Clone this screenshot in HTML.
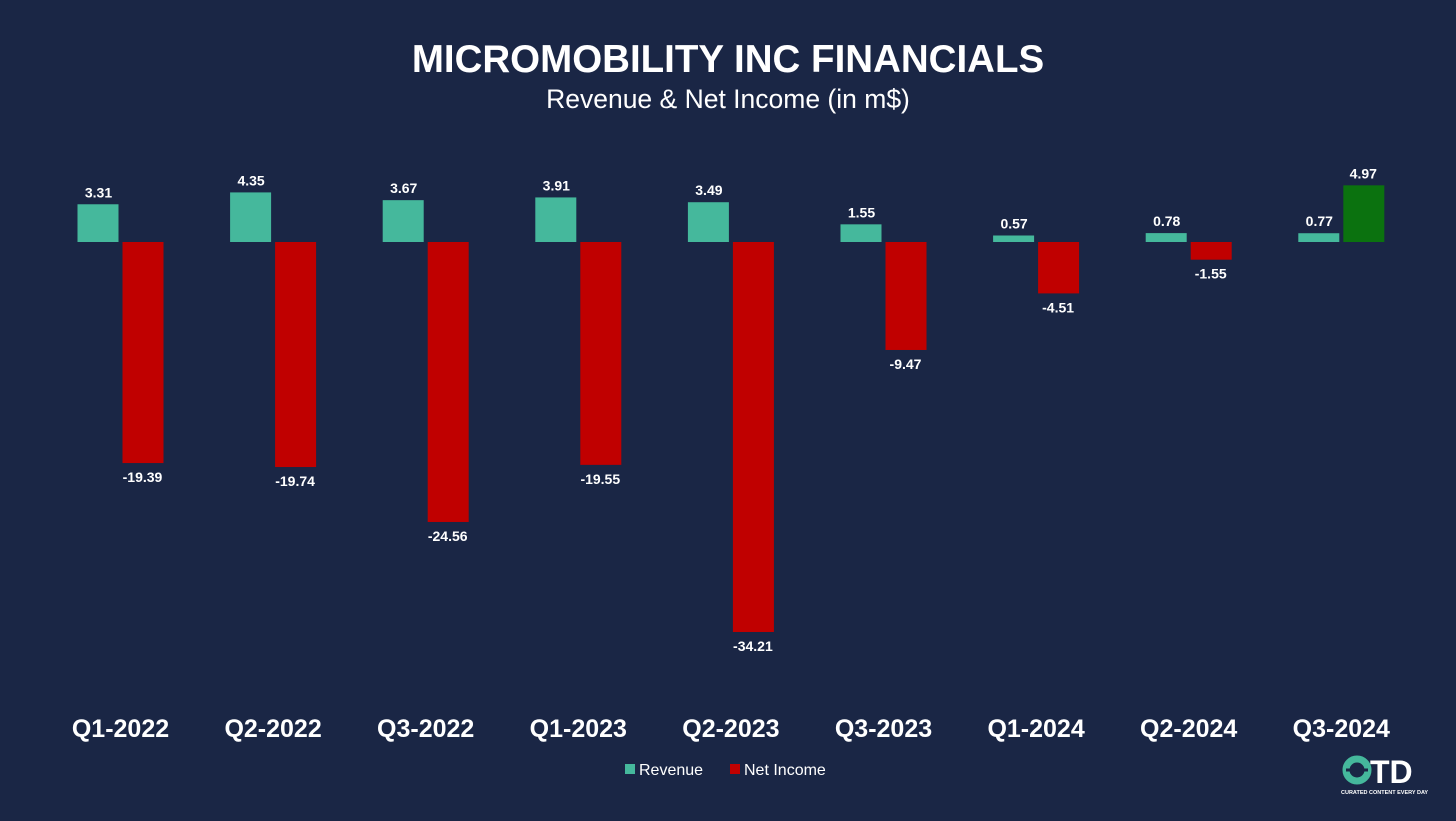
<!DOCTYPE html>
<html><head><meta charset="utf-8"><style>
body{margin:0;background:#1a2645;width:1456px;height:816px;overflow:hidden;font-family:"Liberation Sans",sans-serif;color:#fff}
svg text{font-family:"Liberation Sans",sans-serif;fill:#fff}
</style></head><body>
<svg width="1456" height="816">
<text x="728" y="72" text-anchor="middle" font-size="38.5" font-weight="bold">MICROMOBILITY INC FINANCIALS</text>
<text x="728" y="108" text-anchor="middle" font-size="26.5">Revenue &amp; Net Income (in m$)</text>
<g id="bars"></g>
<g>
<rect x="625" y="764" width="10" height="10" fill="#45b89c"/>
<text x="639" y="775" font-size="16">Revenue</text>
<rect x="730" y="764" width="10" height="10" fill="#c00000"/>
<text x="744" y="775" font-size="16">Net Income</text>
</g>
<g>
<circle cx="1357" cy="770" r="11" fill="none" stroke="#45b89c" stroke-width="7"/>
<path d="M1346 770 h6 M1362 770 h6" stroke="#1a2645" stroke-width="3"/>
<text x="1370" y="783" font-size="32" font-weight="bold">TD</text>
<text x="1341" y="794" font-size="5.5" font-weight="bold">CURATED CONTENT EVERY DAY</text>
</g>
</svg>
<script>
const categories=["Q1-2022","Q2-2022","Q3-2022","Q1-2023","Q2-2023","Q3-2023","Q1-2024","Q2-2024","Q3-2024"];
const revenue=[3.31,4.35,3.67,3.91,3.49,1.55,0.57,0.78,0.77];
const netIncome=[-19.39,-19.74,-24.56,-19.55,-34.21,-9.47,-4.51,-1.55,4.97];
const NS="http://www.w3.org/2000/svg";
const g=document.getElementById('bars');
const zeroY=242, scale=11.4;
const y=v=>zeroY-v*scale;
const xc=i=>120.5+i*152.6;
function mk(t,a){const e=document.createElementNS(NS,t);for(const k in a)e.setAttribute(k,a[k]);g.appendChild(e);return e;}
categories.forEach((c,i)=>{
  const cx=xc(i);
  const r=revenue[i];
  const rb=mk('rect',{x:cx-43,y:Math.min(y(r),zeroY),width:41,height:Math.abs(r*scale),fill:'#45b89c'});
  
  
  const rt=mk('text',{x:cx-22,y:y(r)-7,'text-anchor':'middle','font-size':14,'font-weight':'bold'});
  rt.textContent=r.toFixed(2);
  
  
  const n=netIncome[i];
  const nb=mk('rect',{x:cx+2,y:Math.min(y(n),zeroY),width:41,height:Math.abs(n*scale),fill:n<0?'#c00000':'#0b720f'});
  
  
  const nt=mk('text',{x:cx+22,y:n<0?y(n)+19:y(n)-7,'text-anchor':'middle','font-size':14,'font-weight':'bold'});
  nt.textContent=n.toFixed(2);
  
  
  const ct=mk('text',{x:cx,y:737,'text-anchor':'middle','font-size':25,'font-weight':'bold'});
  ct.textContent=c;
  
  
});
</script>
</body></html>
